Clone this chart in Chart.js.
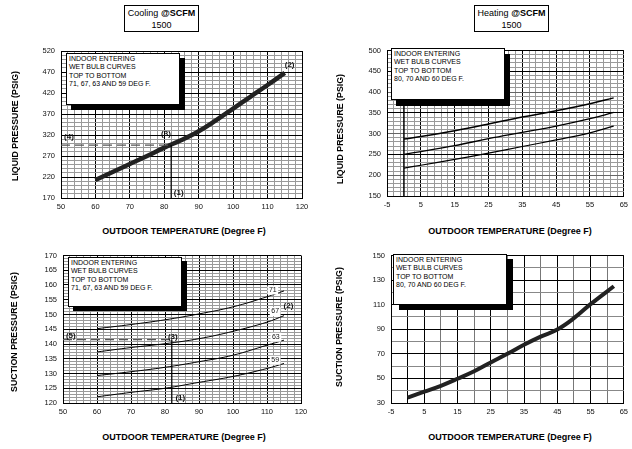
<!DOCTYPE html>
<html><head><meta charset="utf-8">
<script src="https://cdn.jsdelivr.net/npm/chart.js@4/dist/chart.umd.min.js"></script>
<style>
body{margin:0;background:#fff;}
#wrap{position:relative;width:632px;height:449px;font-family:"Liberation Sans",Arial,sans-serif;color:#000;overflow:hidden;background:#fff}
canvas{position:absolute}
.tbox{position:absolute;border:1px solid #000;background:#fff;font-size:9px;text-align:center;line-height:11.5px;box-sizing:border-box;padding-top:2px;width:75px;height:27px}
.ytitle{position:absolute;font-weight:bold;font-size:8.8px;white-space:nowrap;transform:translate(-50%,-50%) rotate(-90deg)}
.xtitle{position:absolute;font-weight:bold;font-size:9px;white-space:nowrap;transform:translate(-50%,-50%)}
.lbox{position:absolute;width:114px;height:52px;box-sizing:border-box;border:1px solid #000;background:#fff;font-size:7px;line-height:8.4px;padding:1px 0 0 2px;white-space:nowrap}
.shadow{position:absolute;width:114px;height:52px;background:#000}
</style></head>
<body>
<div id="wrap">
  <canvas id="c1" width="316" height="185" style="left:0;top:40px"></canvas>
  <canvas id="c2" width="316" height="185" style="left:316px;top:40px"></canvas>
  <canvas id="c3" width="316" height="185" style="left:0;top:245px"></canvas>
  <canvas id="c4" width="316" height="185" style="left:316px;top:245px"></canvas>

  <div class="tbox" style="left:124px;top:5px">Cooling <b>@SCFM</b><br>1500</div>
  <div class="tbox" style="left:474px;top:5px">Heating <b>@SCFM</b><br>1500</div>

  <div class="ytitle" style="left:15px;top:126px">LIQUID PRESSURE (PSIG)</div>
  <div class="ytitle" style="left:340px;top:129px">LIQUID PRESSURE (PSIG)</div>
  <div class="ytitle" style="left:14px;top:332px">SUCTION PRESSURE (PSIG)</div>
  <div class="ytitle" style="left:339px;top:327px">SUCTION PRESSURE (PSIG)</div>

  <div class="xtitle" style="left:184px;top:231px">OUTDOOR TEMPERATURE (Degree F)</div>
  <div class="xtitle" style="left:510px;top:231px">OUTDOOR TEMPERATURE (Degree F)</div>
  <div class="xtitle" style="left:184px;top:437px">OUTDOOR TEMPERATURE (Degree F)</div>
  <div class="xtitle" style="left:510px;top:437px">OUTDOOR TEMPERATURE (Degree F)</div>

  <div class="shadow" style="left:71px;top:58px"></div>
  <div class="lbox" style="left:66px;top:53px">INDOOR ENTERING<br>WET BULB CURVES<br>TOP TO BOTTOM<br>71, 67, 63 AND 59 DEG F.</div>
  <div class="shadow" style="left:396px;top:54px"></div>
  <div class="lbox" style="left:391px;top:48px">INDOOR ENTERING<br>WET BULB CURVES<br>TOP TO BOTTOM<br>80, 70 AND 60 DEG F.</div>
  <div class="shadow" style="left:73px;top:261px;height:50px"></div>
  <div class="lbox" style="left:68px;top:257px;height:50px">INDOOR ENTERING<br>WET BULB CURVES<br>TOP TO BOTTOM<br>71, 67, 63 AND 59 DEG F.</div>
  <div class="shadow" style="left:399px;top:259px;height:51px"></div>
  <div class="lbox" style="left:393px;top:254px;height:51px">INDOOR ENTERING<br>WET BULB CURVES<br>TOP TO BOTTOM<br>80, 70 AND 60 DEG F.</div>
</div>
<script>
// ---------- DATA ----------
// Cooling, liquid pressure
const coolLiqTemp = [60, 65, 70, 75, 80, 85, 90, 95, 100, 105, 110, 115];
const coolLiqPress = [213, 232, 251, 270, 290, 308, 329, 355, 383, 411, 439, 468];
// Cooling, suction pressure (wet bulb 71, 67, 63, 59)
const coolSucTemp = [60, 70, 80, 90, 100, 110, 115];
const coolSuc71 = [145.2, 146.6, 148.2, 150.2, 152.6, 156.0, 158.0];
const coolSuc67 = [137.3, 138.8, 140.1, 141.8, 144.3, 147.4, 149.6];
const coolSuc63 = [129.3, 130.6, 132.1, 134.0, 136.2, 139.6, 141.3];
const coolSuc59 = [122.1, 123.6, 125.0, 127.0, 129.0, 131.7, 133.4];
// Heating, liquid pressure (80, 70, 60)
const heatLiqTemp = [0, 5, 15, 25, 35, 45, 55, 62];
const heatLiq80 = [287, 293, 307, 323, 340, 355, 372, 386];
const heatLiq70 = [250, 257, 271, 288, 303, 318, 336, 351];
const heatLiq60 = [217, 224, 238, 253, 269, 285, 302, 318];
// Heating, suction pressure
const heatSucTemp = [0, 5, 10, 15, 20, 25, 30, 35, 40, 45, 50, 55, 62];
const heatSucPress = [34.4, 39.2, 44, 49.7, 55.8, 63, 70, 77.4, 84, 89.8, 99, 110.4, 125];
// Reference (example) lines
const coolRefTemp = 82;
const coolLiqRefPress = 296;
const coolSucRefPress = 141.5;

// Tick labels
const coolXLabels = [50, 60, 70, 80, 90, 100, 110, 120];
const heatXLabels = [-5, 5, 15, 25, 35, 45, 55, 65];
const coolLiqYLabels = [170, 220, 270, 320, 370, 420, 470, 520];
const coolSucYLabels = [120, 125, 130, 135, 140, 145, 150, 155, 160, 165, 170];
const heatLiqYLabels = [150, 200, 250, 300, 350, 400, 450, 500];
const heatSucYLabels = [30, 50, 70, 90, 110, 130, 150];

// ---------- HELPERS ----------
function range(a, b, s) { const r = []; for (let v = a; v <= b + 1e-9; v += s) r.push(Math.round(v * 1000) / 1000); return r; }
function pts(xs, ys) { return xs.map((x, i) => ({ x, y: ys[i] })); }
const FONT = '"Liberation Sans", Arial, sans-serif';

const notesPlugin = {
  id: 'notes',
  afterDatasetsDraw(chart) {
    const items = chart.options.plugins.notes && chart.options.plugins.notes.items || [];
    const ctx = chart.ctx, xs = chart.scales.x, ys = chart.scales.y;
    ctx.save();
    items.forEach(it => {
      const px = xs.getPixelForValue(it.x), py = ys.getPixelForValue(it.y);
      ctx.font = (it.bold ? 'bold ' : '') + it.size + 'px ' + FONT;
      ctx.textAlign = 'center'; ctx.textBaseline = 'middle';
      if (it.bg) {
        const w = ctx.measureText(it.t).width + 3;
        ctx.fillStyle = '#fff';
        ctx.fillRect(px - w / 2, py - it.size / 2 - 1, w, it.size + 2);
      }
      ctx.fillStyle = '#111';
      ctx.fillText(it.t, px, py);
    });
    ctx.restore();
  }
};

function makeChart(id, o) {
  const xTicks = range(o.xMin, o.xMax, o.xStep);
  const yTicks = range(o.yMin, o.yMax, o.yStep);
  return new Chart(document.getElementById(id), {
    type: 'scatter',
    data: { datasets: o.datasets },
    plugins: [notesPlugin],
    options: {
      responsive: false, animation: false,
      layout: { padding: o.padding },
      plugins: { legend: { display: false }, tooltip: { enabled: false }, notes: { items: o.notes || [] } },
      elements: { point: { radius: 0 } },
      scales: {
        x: {
          type: 'linear', min: o.xMin, max: o.xMax,
          afterBuildTicks: s => { s.ticks = xTicks.map(v => ({ value: v })); },
          afterFit: s => { s.height = o.xHeight; },
          grid: { drawTicks: false, lineWidth: 1, color: c => o.xColor(c.tick.value) },
          border: { color: '#000', width: 1 },
          ticks: { autoSkip: false, maxRotation: 0, padding: 4, color: '#111', font: { size: 7.5, family: FONT },
            callback: v => o.xLabels.includes(v) ? String(v) : '' }
        },
        y: {
          type: 'linear', min: o.yMin, max: o.yMax,
          afterBuildTicks: s => { s.ticks = yTicks.map(v => ({ value: v })); },
          afterFit: s => { s.width = o.yWidth; },
          grid: { drawTicks: false, lineWidth: 1, color: c => o.yColor(c.tick.value) },
          border: { color: '#000', width: 1 },
          ticks: { autoSkip: false, padding: 6, color: '#111', font: { size: 7.5, family: FONT },
            callback: v => o.yLabels.includes(v) ? String(v) : '' }
        }
      }
    }
  });
}

const MINOR = '#9a9a9a', MAJOR = '#000', MID = '#666';
function curve(xs, ys, w, col) {
  return { data: pts(xs, ys), showLine: true, borderColor: col || '#000', borderWidth: w, pointRadius: 0, tension: 0.4, fill: false, borderCapStyle: 'butt' };
}
function seg(p, w, col, dash) {
  return { data: p, showLine: true, borderColor: col, borderWidth: w, pointRadius: 0, borderDash: dash || [], fill: false };
}

// Cooling liquid
makeChart('c1', {
  xMin: 50, xMax: 120, xStep: 2, yMin: 170, yMax: 520, yStep: 10,
  xLabels: coolXLabels, yLabels: coolLiqYLabels,
  xColor: v => (v % 10 === 0) ? MAJOR : MINOR,
  yColor: v => ((v - 170) % 50 === 0) ? MAJOR : MINOR,
  padding: { top: 11, right: 14, left: 0, bottom: 0 }, yWidth: 61, xHeight: 27,
  datasets: [
    seg([{ x: coolRefTemp, y: 170 }, { x: coolRefTemp, y: coolLiqRefPress }], 1.2, '#000'),
    seg([{ x: 50, y: coolLiqRefPress }, { x: coolRefTemp, y: coolLiqRefPress }], 1.3, '#555', [9, 5]),
    curve(coolLiqTemp, coolLiqPress, 4.5, '#222')
  ],
  notes: [
    { t: '(2)', x: 116.4, y: 486, size: 8, bold: true },
    { t: '(3)', x: 80.5, y: 322, size: 8, bold: true },
    { t: '(4)', x: 52.3, y: 316, size: 8, bold: true },
    { t: '(1)', x: 84.2, y: 182, size: 8, bold: true }
  ]
});

// Heating liquid
makeChart('c2', {
  xMin: -5, xMax: 65, xStep: 2, yMin: 150, yMax: 500, yStep: 10,
  xLabels: heatXLabels, yLabels: heatLiqYLabels,
  xColor: v => (((v - 5) % 10 === 0) || v === -5 || v === 65) ? MAJOR : MINOR,
  yColor: v => (v === 150 || v === 500 || (v - 250) % 100 === 0) ? MAJOR : ((v % 100 === 0) ? MID : MINOR),
  padding: { top: 7, right: 4, left: 0, bottom: 0 }, yWidth: 71, xHeight: 29,
  datasets: [
    seg([{ x: 0, y: 150 }, { x: 0, y: 500 }], 1.5, '#000'),
    curve(heatLiqTemp, heatLiq80, 1.5),
    curve(heatLiqTemp, heatLiq70, 1.3),
    curve(heatLiqTemp, heatLiq60, 1.2)
  ]
});

// Cooling suction
makeChart('c3', {
  xMin: 50, xMax: 120, xStep: 2, yMin: 120, yMax: 170, yStep: 1,
  xLabels: coolXLabels, yLabels: coolSucYLabels,
  xColor: v => (v % 10 === 0) ? MAJOR : MINOR,
  yColor: v => (v % 5 === 0) ? MAJOR : MINOR,
  padding: { top: 9, right: 15, left: 0, bottom: 0 }, yWidth: 63, xHeight: 27,
  datasets: [
    seg([{ x: coolRefTemp, y: 120 }, { x: coolRefTemp, y: coolSucRefPress }], 1.2, '#000'),
    seg([{ x: 50, y: coolSucRefPress }, { x: coolRefTemp, y: coolSucRefPress }], 1.3, '#555', [9, 5]),
    curve(coolSucTemp, coolSuc71, 1),
    curve(coolSucTemp, coolSuc67, 1),
    curve(coolSucTemp, coolSuc63, 1),
    curve(coolSucTemp, coolSuc59, 1)
  ],
  notes: [
    { t: '71', x: 111.7, y: 158.3, size: 7, bg: true },
    { t: '67', x: 112.4, y: 151, size: 7, bg: true },
    { t: '63', x: 112.6, y: 142.3, size: 7, bg: true },
    { t: '59', x: 112.4, y: 134.5, size: 7, bg: true },
    { t: '(2)', x: 116.3, y: 153, size: 8, bold: true },
    { t: '(3)', x: 82.3, y: 142.3, size: 8, bold: true },
    { t: '(5)', x: 52.3, y: 142.9, size: 8, bold: true },
    { t: '(1)', x: 84.5, y: 121.8, size: 8, bold: true }
  ]
});

// Heating suction
makeChart('c4', {
  xMin: -5, xMax: 65, xStep: 5, yMin: 30, yMax: 150, yStep: 10,
  xLabels: heatXLabels, yLabels: heatSucYLabels,
  xColor: v => (v === 0 || v === -5 || v === 65 || (v - 5) % 10 === 0) ? MAJOR : '#777',
  yColor: v => ((v - 30) % 20 === 0) ? MAJOR : '#888',
  padding: { top: 7, right: 4, left: 0, bottom: 0 }, yWidth: 75, xHeight: 27,
  datasets: [
    curve(heatSucTemp, heatSucPress, 4, '#222')
  ]
});
</script>
</body></html>
